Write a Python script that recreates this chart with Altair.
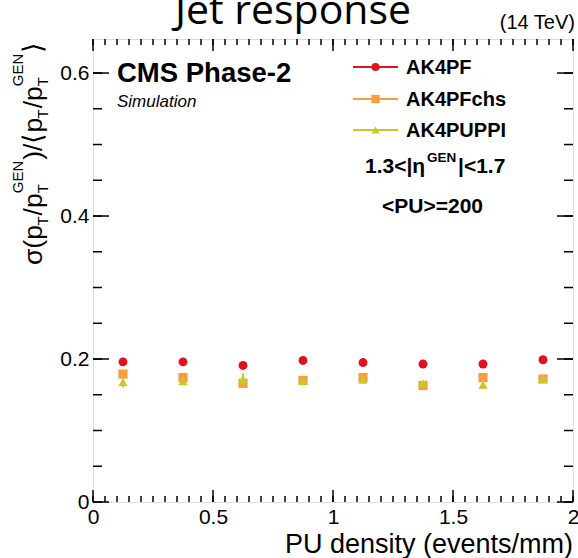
import altair as alt
import pandas as pd

# ---------------- data ----------------
pu_density = [0.125, 0.375, 0.625, 0.875, 1.125, 1.375, 1.625, 1.875]
ak4pf = [0.196, 0.196, 0.191, 0.198, 0.195, 0.193, 0.193, 0.199]
ak4pf_err = [0.005, 0.004, 0.002, 0.002, 0.002, 0.002, 0.002, 0.002]
ak4pfchs = [0.179, 0.174, 0.166, 0.170, 0.174, 0.163, 0.174, 0.172]
ak4pfchs_err = [0.006, 0.004, 0.003, 0.003, 0.003, 0.003, 0.003, 0.003]
ak4puppi = [0.168, 0.169, 0.172, 0.170, 0.171, 0.166, 0.164, 0.172]
ak4puppi_err = [0.008, 0.004, 0.008, 0.003, 0.003, 0.003, 0.006, 0.003]

series_names = ["AK4PF", "AK4PFchs", "AK4PUPPI"]
series_vals = [ak4pf, ak4pfchs, ak4puppi]
series_errs = [ak4pf_err, ak4pfchs_err, ak4puppi_err]
colors = ["#e2111f", "#ff9c3a", "#c8c82a"]
shapes = ["circle", "square", "triangle-up"]
sizes = [80, 85, 85]

x_major = [0, 0.5, 1, 1.5, 2]
x_minor = [round(i * 0.05, 2) for i in range(41)]
y_major = [0, 0.2, 0.4, 0.6]
y_minor = [round(i * 0.05, 2) for i in range(13)]

# ---------------- layout ----------------
W, H = 480, 463
PL, PT = 93, 39
FONT = "Liberation Sans"
xs = alt.Scale(domain=[0, 2], nice=False, zero=False)
ys = alt.Scale(domain=[0, 0.6476], nice=False, zero=False)
one = pd.DataFrame({"k": [0]})

layers = []

axis_common = dict(format="~g", domain=False, ticks=False, grid=False, labelFlush=False,
                   labelOverlap=False, labelFont=FONT, labelFontSize=21, labelColor="black",
                   labelPadding=4, title=None)
axis_layer = alt.Chart(pd.DataFrame({"x": x_major, "y": [0] * 5})).mark_point(opacity=0).encode(
    x=alt.X("x:Q", scale=xs, axis=alt.Axis(values=x_major, **axis_common)),
    y=alt.Y("y:Q", scale=ys, axis=alt.Axis(values=y_major, **axis_common)),
)
layers.append(axis_layer)

# ticks (inside, mirrored)
def xticks(vals, ln):
    d = pd.DataFrame({"v": vals})
    bot = alt.Chart(d).mark_rule(color="black", strokeWidth=1.5).encode(
        x=alt.X("v:Q", scale=xs), y=alt.value(H), y2=alt.value(H - ln))
    top = alt.Chart(d).mark_rule(color="black", strokeWidth=1.5).encode(
        x=alt.X("v:Q", scale=xs), y=alt.value(0), y2=alt.value(ln))
    return [bot, top]

def yticks(vals, ln):
    d = pd.DataFrame({"v": vals})
    lft = alt.Chart(d).mark_rule(color="black", strokeWidth=1.5).encode(
        y=alt.Y("v:Q", scale=ys), x=alt.value(0), x2=alt.value(ln))
    rgt = alt.Chart(d).mark_rule(color="black", strokeWidth=1.5).encode(
        y=alt.Y("v:Q", scale=ys), x=alt.value(W), x2=alt.value(W - ln))
    return [lft, rgt]

layers += xticks(x_minor, 6) + xticks(x_major, 12)
layers += yticks(y_minor, 9) + yticks(y_major, 16)

# data: error bars and markers
for name, vals, errs, col, shp, sz in zip(series_names, series_vals, series_errs, colors, shapes, sizes):
    d = pd.DataFrame({"x": pu_density, "y": vals,
                      "lo": [v - e for v, e in zip(vals, errs)],
                      "hi": [v + e for v, e in zip(vals, errs)]})
    layers.append(alt.Chart(d).mark_rule(color=col, strokeWidth=2).encode(
        x=alt.X("x:Q", scale=xs), y=alt.Y("lo:Q", scale=ys), y2="hi:Q"))
    layers.append(alt.Chart(d).mark_point(filled=True, opacity=1, shape=shp, size=sz, color=col).encode(
        x=alt.X("x:Q", scale=xs), y=alt.Y("y:Q", scale=ys)))

# legend
leg_x0, leg_x1, leg_tx = 260, 305, 313
leg_y = [28, 60, 91]
for name, col, shp, sz, ly in zip(series_names, colors, shapes, sizes, leg_y):
    layers.append(alt.Chart(one).mark_rule(color=col, strokeWidth=2).encode(
        x=alt.value(leg_x0), x2=alt.value(leg_x1), y=alt.value(ly)))
    layers.append(alt.Chart(one).mark_point(filled=True, opacity=1, shape=shp, size=sz * 0.8, color=col).encode(
        x=alt.value((leg_x0 + leg_x1) / 2), y=alt.value(ly)))
    layers.append(alt.Chart(one).mark_text(text=name, font=FONT, fontWeight="bold", fontSize=20,
                                           align="left", baseline="middle", color="black").encode(
        x=alt.value(leg_tx), y=alt.value(ly + 1)))

def txt(text, x, y, size, align="left", weight="normal", style="normal", font=FONT, baseline="alphabetic",
        angle=0):
    return alt.Chart(one).mark_text(text=text, font=font, fontSize=size, fontWeight=weight, fontStyle=style,
                                    align=align, baseline=baseline, color="black", angle=angle).encode(
        x=alt.value(x), y=alt.value(y))

layers.append(txt("CMS Phase-2", 24, 43, 27.5, weight="bold"))
layers.append(txt("Simulation", 24, 68, 17, style="italic"))
layers.append(txt("(14 TeV)", 482, -10, 20, align="right"))
layers.append(txt("Jet response", 200, -15, 41, align="center", font="Open Sans"))

# eta range text with superscript
layers.append(txt("1.3<|η", 272, 134, 21, weight="bold"))
layers.append(txt("GEN", 334, 123, 13.5, weight="bold"))
layers.append(txt("|<1.7", 365, 134, 21, weight="bold"))
layers.append(txt("<PU>=200", 289, 174, 21, weight="bold"))

# x axis title
layers.append(txt("PU density (events/mm)", W, 514, 27, align="right"))

# y axis title built from pieces (rotated)
WID = {"σ": 0.60, "(": 0.333, ")": 0.333, "p": 0.556, "/": 0.278, "T": 0.611,
       "G": 0.778, "E": 0.667, "N": 0.722, "⟨": 0.39, "⟩": 0.39}
def tw(s, size):
    return sum(WID[c] for c in s) * size

F, S = 26.5, 15
xb = 42 - PL
pos = 265 - PT
seq = [("σ(p", "m"), ("T", "sub"), ("/p", "m"), ("T|GEN", "stack"),
       (")/⟨p", "m"), ("T", "sub"), ("/p", "m"), ("T|GEN", "stack"), ("⟩", "m")]
for t, kind in seq:
    if kind == "m":
        layers.append(txt(t, xb, pos, F, angle=270))
        pos -= tw(t, F)
    elif kind == "sub":
        layers.append(txt(t, xb + 6, pos, S, angle=270))
        pos -= tw(t, S) + 1
    else:
        a, b = t.split("|")
        layers.append(txt(a, xb + 6, pos, S, angle=270))
        layers.append(txt(b, xb - 19, pos, S, angle=270))
        pos -= max(tw(a, S), tw(b, S)) + 1

chart = alt.layer(*layers).properties(
    width=W, height=H,
    autosize=alt.AutoSizeParams(type="none"),
    padding={"left": PL, "top": PT, "right": 578 - PL - W, "bottom": 558 - PT - H},
).configure_view(stroke="black", strokeWidth=2).configure(background="white")

chart.save("out.html", embed_options={"renderer": "svg", "actions": False})
